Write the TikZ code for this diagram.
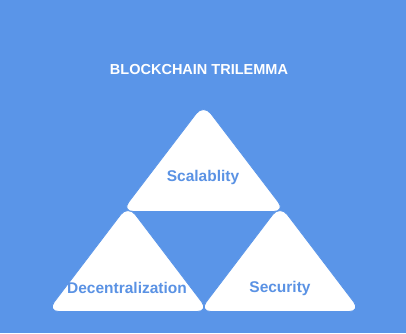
\documentclass[tikz,border=0pt]{standalone}
\usepackage{fontspec}
\setmainfont{Liberation Sans}
\usepackage{xcolor}
\definecolor{bgblue}{HTML}{5A95E8}
\definecolor{txtblue}{HTML}{5A92E4}

\begin{document}
\begin{tikzpicture}[x=1pt,y=-1pt,
  tri/.style={fill=white,draw=bgblue,line width=0.8pt,rounded corners=12pt},
  lbl/.style={font=\fontsize{15.5}{18}\selectfont\bfseries,text=txtblue},
  ttl/.style={font=\fontsize{14.5}{17}\selectfont\bfseries,text=white}]
 \fill[bgblue] (0,0) rectangle (406,333);
 \useasboundingbox (0,0) rectangle (406,333);
 % bottom pair first, the top one lies over them
 \path[tri] (128,205)--(209,311.5)--(47,311.5)--cycle;
 \path[tri] (280,205)--(361,311.5)--(199,311.5)--cycle;
 \path[tri] (203.5,104)--(285.5,211.5)--(121.5,211.5)--cycle;
 \node[ttl] (title) at(199,70){BLOCKCHAIN TRILEMMA};
 \node[lbl] (scal) at(203,177){Scalablity};
 \node[lbl] (dec) at(127,288){Decentralization};
 \node[lbl] (sec) at(280,288){Security};
\end{tikzpicture}
\end{document}
